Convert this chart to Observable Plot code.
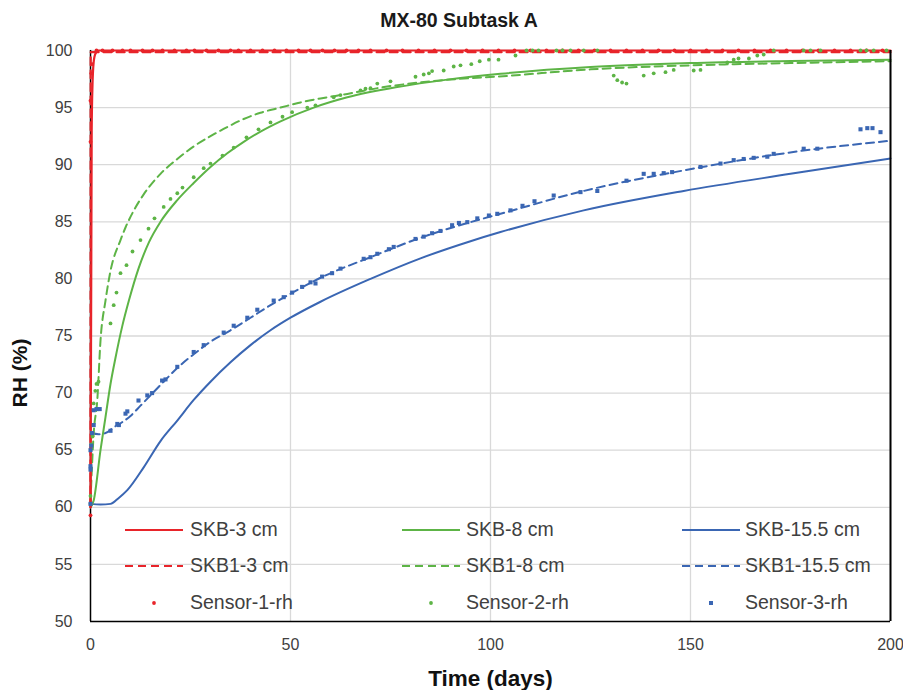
<!DOCTYPE html>
<html>
<head>
<meta charset="utf-8">
<script src="https://cdn.jsdelivr.net/npm/d3@7"></script>
<script src="https://cdn.jsdelivr.net/npm/@observablehq/plot@0.6"></script>
<style>
  body { margin: 0; background: #fff; }
  #wrap { position: relative; width: 903px; height: 690px; font-family: "Liberation Sans", Arial, sans-serif; }
  #title { position: absolute; top: 9px; left: 0; width: 918px; text-align: center; font-weight: bold; font-size: 19.5px; color: #1a1a1a; }
  #ylabel { position: absolute; left: 20px; top: 373px; transform: translate(-50%, -50%) rotate(-90deg); font-weight: bold; font-size: 21px; color: #111; white-space: nowrap; }
  #legend { position: absolute; left: 0; top: 0; width: 903px; height: 690px; pointer-events: none; }
  .lg-text { position: absolute; font-size: 19.5px; color: #404040; line-height: 1; transform: translateY(-50%); white-space: nowrap; }
  .lg-sym { position: absolute; transform: translateY(-50%); }
  svg g[aria-label="x-axis label"] text { font-weight: bold; font-size: 22.5px; fill: #111; }
</style>
</head>
<body>
<div id="wrap">
  <div id="chart"></div>
  <div id="title"></div>
  <div id="ylabel"></div>
  <div id="legend"></div>
</div>
<script>
// ---- Data ----
const title = "MX-80 Subtask A";
const xLabel = "Time (days)";
const yLabel = "RH (%)";
const xTicks = [0, 50, 100, 150, 200];
const yTicks = [50, 55, 60, 65, 70, 75, 80, 85, 90, 95, 100];

// SKB-3 cm (red solid)
const skb3_t  = [0, 0.3, 0.5, 0.8, 1.2, 2, 200];
const skb3_rh = [60, 93, 97, 99.0, 99.7, 100, 100];
// SKB1-3 cm (red dashed)
const skb13_t  = [0, 0.05, 200];
const skb13_rh = [60, 99.85, 99.85];

// SKB-8 cm (green solid)
const skb8_t  = [0, 0.8, 2.5, 3.75, 5, 6.25, 7.9, 9.6, 12, 14.6, 17.5, 21.7, 25.8, 30, 34.2, 38.3, 42.5, 47.5, 55.8, 64.2, 76.7, 89.2, 102.5, 125, 150, 175, 200];
const skb8_rh = [60, 60.6, 65.0, 67.9, 70.8, 73.1, 75.8, 78.1, 80.9, 83.2, 85.0, 86.9, 88.4, 89.8, 91.0, 92.0, 92.9, 93.8, 95.0, 95.9, 96.8, 97.45, 97.96, 98.55, 98.9, 99.08, 99.2];
// SKB1-8 cm (green dashed)
const skb18_t  = [0, 0.8, 1.7, 2.5, 3.75, 5, 7.5, 8.75, 11, 13.3, 17.5, 21.7, 25.8, 30, 34.2, 38.3, 42.5, 47.5, 52.5, 57.5, 64.2, 72.5, 85, 105, 125, 150, 175, 200];
const skb18_rh = [60.5, 66.5, 69.4, 74.6, 78.1, 80.7, 83.4, 84.5, 86.1, 87.4, 89.2, 90.5, 91.6, 92.5, 93.3, 94.0, 94.55, 95.0, 95.45, 95.8, 96.2, 96.75, 97.3, 97.8, 98.35, 98.7, 98.9, 99.06];

// SKB-15.5 cm (blue solid)
const skb155_t  = [0, 2.5, 5, 7, 9.2, 13.3, 17.5, 21.7, 25.8, 30, 35, 40, 45, 50, 57.5, 70, 82.5, 95, 102.5, 123.3, 148.3, 175, 200];
const skb155_rh = [60.3, 60.25, 60.3, 60.8, 61.5, 63.5, 65.8, 67.6, 69.4, 71.0, 72.7, 74.2, 75.5, 76.6, 78.0, 80.0, 81.8, 83.3, 84.1, 86.0, 87.7, 89.2, 90.55];
// SKB1-15.5 cm (blue dashed)
const skb1155_t  = [0.3, 2, 3.75, 5.8, 7.9, 10, 12.5, 15, 18.3, 21.7, 25.8, 30, 35, 40, 45, 50, 57.5, 70, 82.5, 95, 102.5, 123.3, 148.3, 177.5, 200];
const skb1155_rh = [66.5, 66.4, 66.5, 67.0, 67.45, 68.0, 68.9, 69.8, 71.0, 72.2, 73.4, 74.5, 75.5, 76.6, 77.7, 78.7, 80.1, 81.9, 83.6, 84.97, 85.7, 87.7, 89.5, 91.2, 92.1];

// Sensor-1-rh (red dots)
const sensor1_t  = [0, 0, 0, 0.2, 0.4, 1.5, 3, 5.5, 8, 10, 13, 15.5, 18, 21, 24, 26, 29, 32, 35, 37, 40, 43, 46, 49, 52, 55, 58, 61, 64, 67, 70, 74, 78, 82, 86, 90, 94, 98, 102, 106, 110, 114, 118, 122, 126, 130, 134, 138, 142, 146, 150, 154, 158, 162, 166, 170, 174, 178, 182, 186, 190, 194, 198];
const sensor1_rh = [59.3, 92.0, 95.6, 98.0, 98.8, 100, 100, 100, 100, 100, 100, 100, 100, 100, 100, 100, 100, 100, 100, 100, 100, 100, 100, 100, 100, 100, 100, 100, 100, 100, 100, 100, 100, 100, 100, 100, 100, 100, 100, 100, 100, 100, 100, 100, 100, 100, 100, 100, 100, 100, 100, 100, 100, 100, 100, 100, 100, 100, 100, 100, 100, 100, 100];

// Sensor-2-rh (green dots)
const sensor2_t  = [0, 0, 0.2, 0.5, 0.8, 1.2, 1.5, 2, 5, 5.8, 6.5, 7.5, 9, 10.5, 12.5, 14.5, 16, 18.3, 20, 21.7, 23, 25.8, 28.3, 30, 33, 35.8, 39, 42, 45, 48, 50.4, 54.2, 56.25, 60.8, 62.5, 67.5, 68.75, 70, 71.7, 75, 81.25, 83.3, 84.6, 85.4, 88.3, 90.8, 92.5, 95.2, 97.3, 99.6, 102, 106.25, 109, 110.5, 112, 116.5, 118, 120, 123.3, 126.7, 130.8, 131.7, 132.9, 134, 138.3, 140.8, 143.75, 145.8, 150.8, 152.5, 159.2, 160.8, 162, 164.6, 166.7, 168.3, 170.8, 178.3, 180, 182.5, 192.5, 194, 195.8, 199];
const sensor2_rh = [60.3, 61, 65.5, 66.2, 69.1, 70.2, 70.8, 71, 76.1, 77.7, 78.8, 80.5, 81.2, 82.4, 83.4, 84.4, 85.3, 86.3, 87, 87.5, 88, 88.9, 89.7, 90.1, 90.8, 91.5, 92.4, 93.1, 93.7, 94.2, 94.6, 95.0, 95.2, 95.9, 96.1, 96.5, 96.65, 96.7, 97.1, 97.3, 97.7, 97.9, 98.0, 98.2, 98.25, 98.6, 98.7, 98.8, 99.06, 99.2, 99.2, 99.56, 100, 100, 100, 100, 100, 100, 100, 100, 97.8, 97.4, 97.2, 97.1, 97.8, 98.0, 98.1, 98.3, 98.25, 98.3, 98.95, 99.2, 99.3, 99.3, 99.56, 99.65, 100, 100, 100, 100, 100, 100, 100, 100];

// Sensor-3-rh (blue squares)
const sensor3_t  = [0, 0, 0, 0, 0.2, 0.4, 0.8, 0.8, 1.5, 2.3, 5, 6.7, 7.1, 8.75, 9.2, 12, 14.2, 15.4, 17.9, 18.75, 21.7, 25.8, 28.3, 33.3, 35.8, 39.2, 41.7, 45.8, 48.3, 50.4, 52.9, 55, 56.25, 57.9, 60.4, 62.5, 68.3, 70, 71.7, 74.6, 75.8, 81.25, 83.3, 85.4, 87.5, 90.4, 92.1, 94.2, 96.7, 99.6, 101.7, 105, 108, 111, 115.8, 122.5, 126.7, 134, 138.3, 140.8, 143.3, 145.4, 152.5, 157.5, 160.8, 163.3, 165.8, 169.2, 170.8, 178.3, 181.7, 192.5, 194.2, 195.5, 197.5];
const sensor3_rh = [60.3, 63.3, 63.6, 65.0, 65.4, 66.5, 67.2, 68.5, 68.6, 68.6, 66.7, 67.3, 67.2, 68.2, 68.4, 69.35, 69.8, 70.0, 71.1, 71.2, 72.3, 73.6, 74.2, 75.3, 75.9, 76.6, 77.3, 78.1, 78.4, 78.8, 79.3, 79.7, 79.6, 80.2, 80.5, 80.9, 81.76, 81.9, 82.2, 82.6, 82.8, 83.5, 83.7, 84.0, 84.2, 84.7, 84.9, 84.97, 85.3, 85.55, 85.7, 86.0, 86.4, 86.8, 87.3, 87.6, 87.7, 88.6, 89.2, 89.2, 89.26, 89.35, 89.8, 90.1, 90.4, 90.5, 90.6, 90.7, 90.95, 91.4, 91.4, 93.1, 93.2, 93.2, 92.85];

// Legend
const legendLabels = ["SKB-3 cm", "SKB-8 cm", "SKB-15.5 cm", "SKB1-3 cm", "SKB1-8 cm", "SKB1-15.5 cm", "Sensor-1-rh", "Sensor-2-rh", "Sensor-3-rh"];
const legendKinds  = ["solid", "solid", "solid", "dashed", "dashed", "dashed", "dot", "dot", "square"];

// ---- Styling ----
const RED = "#E8242A", GREEN = "#5DB446", BLUE = "#3A66B3";
const legendColors = [RED, GREEN, BLUE, RED, GREEN, BLUE, RED, GREEN, BLUE];
const DASH = "8,5";

document.getElementById("title").textContent = title;
document.getElementById("ylabel").textContent = yLabel;

const zip = (t, v) => t.map((d, i) => ({t: d, rh: v[i]}));

const chart = Plot.plot({
  width: 903,
  height: 690,
  marginLeft: 90,
  marginRight: 13,
  marginTop: 50,
  marginBottom: 69,
  style: {fontFamily: '"Liberation Sans", Arial, sans-serif', fontSize: "16px", color: "#404040", background: "transparent", overflow: "visible"},
  x: {domain: [0, 200]},
  y: {domain: [50, 100]},
  marks: [
    Plot.gridX(xTicks.slice(1), {stroke: "#d9d9d9", strokeOpacity: 1, strokeWidth: 1.3}),
    Plot.gridY(yTicks.slice(1), {stroke: "#d9d9d9", strokeOpacity: 1, strokeWidth: 1.3}),
    Plot.axisX({ticks: xTicks, tickSize: 0, tickPadding: 17, label: xLabel, labelAnchor: "center", labelArrow: "none", labelOffset: 64}),
    Plot.axisY({ticks: yTicks, tickSize: 0, tickPadding: 18, label: null}),
    Plot.ruleX([0], {stroke: "black", strokeWidth: 1.5}),
    Plot.line(zip(skb155_t, skb155_rh), {x: "t", y: "rh", stroke: BLUE, strokeWidth: 2, curve: "monotone-x"}),
    Plot.line(zip(skb1155_t, skb1155_rh), {x: "t", y: "rh", stroke: BLUE, strokeWidth: 2, strokeDasharray: DASH, curve: "monotone-x"}),
    Plot.line(zip(skb8_t, skb8_rh), {x: "t", y: "rh", stroke: GREEN, strokeWidth: 2, curve: "monotone-x"}),
    Plot.line(zip(skb18_t, skb18_rh), {x: "t", y: "rh", stroke: GREEN, strokeWidth: 2, strokeDasharray: DASH, curve: "monotone-x"}),
    Plot.line(zip(skb3_t, skb3_rh), {x: "t", y: "rh", stroke: RED, strokeWidth: 2.2, curve: "monotone-x"}),
    Plot.line(zip(skb13_t, skb13_rh), {x: "t", y: "rh", stroke: RED, strokeWidth: 2.2, strokeDasharray: DASH}),
    Plot.dot(zip(sensor1_t, sensor1_rh), {x: "t", y: "rh", fill: RED, r: 1.9, stroke: "none"}),
    Plot.dot(zip(sensor2_t, sensor2_rh), {x: "t", y: "rh", fill: GREEN, r: 1.9, stroke: "none"}),
    Plot.dot(zip(sensor3_t, sensor3_rh), {x: "t", y: "rh", fill: BLUE, symbol: "square", r: 2.3, stroke: "none"}),
    Plot.ruleY([50], {stroke: "black", strokeWidth: 1.5}),
    Plot.ruleX([200], {stroke: "black", strokeWidth: 2})
  ]
});
document.getElementById("chart").appendChild(chart);

// Legend overlay (inside plot area, transparent background)
const legend = document.getElementById("legend");
const colSym = [125, 402, 682], colText = [190, 466, 745], rowY = [530, 566, 603];
legendLabels.forEach((lab, i) => {
  const c = i % 3, r = Math.floor(i / 3);
  const sym = document.createElementNS("http://www.w3.org/2000/svg", "svg");
  sym.setAttribute("width", 60); sym.setAttribute("height", 10);
  sym.setAttribute("class", "lg-sym");
  sym.style.left = colSym[c] + "px"; sym.style.top = rowY[r] + "px";
  const kind = legendKinds[i], col = legendColors[i];
  if (kind === "solid" || kind === "dashed") {
    const ln = document.createElementNS("http://www.w3.org/2000/svg", "line");
    ln.setAttribute("x1", 0); ln.setAttribute("x2", 58); ln.setAttribute("y1", 5); ln.setAttribute("y2", 5);
    ln.setAttribute("stroke", col); ln.setAttribute("stroke-width", 2.2);
    if (kind === "dashed") ln.setAttribute("stroke-dasharray", DASH);
    sym.appendChild(ln);
  } else if (kind === "dot") {
    const ci = document.createElementNS("http://www.w3.org/2000/svg", "circle");
    ci.setAttribute("cx", 29); ci.setAttribute("cy", 5); ci.setAttribute("r", 1.9); ci.setAttribute("fill", col);
    sym.appendChild(ci);
  } else {
    const re = document.createElementNS("http://www.w3.org/2000/svg", "rect");
    re.setAttribute("x", 27); re.setAttribute("y", 3); re.setAttribute("width", 4); re.setAttribute("height", 4); re.setAttribute("fill", col);
    sym.appendChild(re);
  }
  legend.appendChild(sym);
  const tx = document.createElement("div");
  tx.className = "lg-text";
  tx.textContent = lab;
  tx.style.left = colText[c] + "px"; tx.style.top = rowY[r] + "px";
  legend.appendChild(tx);
});
</script>
</body>
</html>
